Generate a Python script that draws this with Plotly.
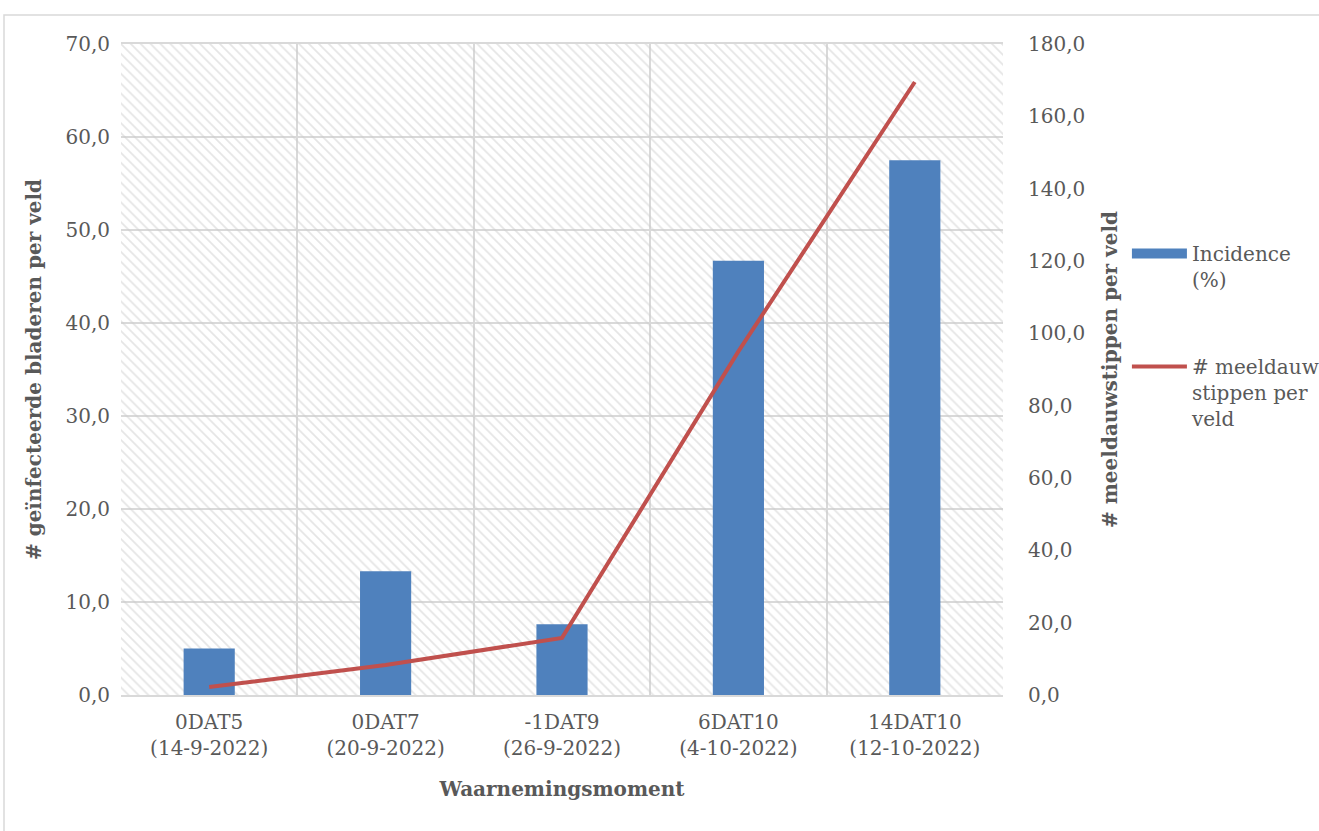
import plotly.graph_objects as go

categories = ["0DAT5<br>(14-9-2022)", "0DAT7<br>(20-9-2022)", "-1DAT9<br>(26-9-2022)",
              "6DAT10<br>(4-10-2022)", "14DAT10<br>(12-10-2022)"]
incidence = [5.0, 13.3, 7.6, 46.7, 57.5]
stippen = [2.2, 8.3, 15.8, 95.0, 169.5]
left_ticks = [0, 10, 20, 30, 40, 50, 60, 70]
right_ticks = [0, 20, 40, 60, 80, 100, 120, 140, 160, 180]

idx = list(range(len(categories)))
lo, hi = idx[0] - 0.5, idx[-1] + 0.5

FONT = "DejaVu Serif"
GREY = "#595959"
BLUE = "#4f81bd"
RED = "#c0504d"
FS = 20

fig = go.Figure()
# hatched plot background
fig.add_trace(go.Scatter(
    x=[lo, hi, hi, lo, lo], y=[0, 0, 1, 1, 0], mode="none", fill="toself",
    fillcolor="rgba(0,0,0,0)",
    fillpattern=dict(shape="\\", fgcolor="#cccccc", bgcolor="rgba(0,0,0,0)", size=7, solidity=0.25),
    xaxis="x", yaxis="y", showlegend=False, hoverinfo="skip"))

fig.add_trace(go.Bar(
    x=idx, y=incidence, name="Incidence<br>(%)", marker=dict(color=BLUE, line=dict(width=0)),
    width=0.29, xaxis="x", yaxis="y2", showlegend=False))
# legend swatch for bars (wide rectangle like the reference)
fig.add_trace(go.Scatter(
    x=[None], y=[None], name="Incidence<br>(%)", mode="lines",
    line=dict(color=BLUE, width=13), xaxis="x", yaxis="y2", legendgroup="a"))
fig.add_trace(go.Scatter(
    x=idx, y=stippen, name="# meeldauw<br>stippen per<br>veld", mode="lines",
    line=dict(color=RED, width=4), xaxis="x", yaxis="y3", legendgroup="b"))

fig.update_layout(
    width=1319, height=831,
    margin=dict(l=121, r=316, t=44, b=136, autoexpand=False),
    paper_bgcolor="white", plot_bgcolor="white",
    font=dict(family=FONT, size=FS, color=GREY),
    showlegend=True,
    legend=dict(x=1.1405, y=0.708, xanchor="left", yanchor="top", valign="top",
                font=dict(family=FONT, size=FS, color=GREY),
                tracegroupgap=58, itemwidth=55, bgcolor="rgba(0,0,0,0)"),
    xaxis=dict(range=[lo, hi], tickvals=idx, ticktext=categories, showgrid=False,
               showline=True, linecolor="#d9d9d9", linewidth=2, zeroline=False,
               ticks="", ticklabelstandoff=8, tickfont=dict(family=FONT, size=FS, color=GREY),
               minor=dict(tick0=lo, dtick=1, showgrid=True, gridcolor="#d9d9d9", gridwidth=2, ticks=""),
               title=dict(text="<b>Waarnemingsmoment</b>", standoff=23,
                          font=dict(family=FONT, size=FS, color=GREY)),
               mirror=True, automargin=False),
    yaxis=dict(range=[0, 1], visible=False, fixedrange=True),
    yaxis2=dict(overlaying="y", side="left", anchor="x", range=[0, 70], tickvals=left_ticks,
                tickformat=".1f", showgrid=True, gridcolor="#d9d9d9", gridwidth=2, zeroline=False,
                showline=False, ticks="", ticklabelstandoff=10, automargin=False,
                tickfont=dict(family=FONT, size=FS, color=GREY),
                title=dict(text="<b># geïnfecteerde bladeren per veld</b>", standoff=18,
                           font=dict(family=FONT, size=FS, color=GREY))),
    yaxis3=dict(overlaying="y", side="right", anchor="x", range=[0, 180], tickvals=right_ticks,
                tickformat=".1f", showgrid=False, zeroline=False, showline=False, ticks="",
                ticklabelstandoff=24, automargin=False,
                tickfont=dict(family=FONT, size=FS, color=GREY),
                title=dict(text="<b># meeldauwstippen per veld</b>", standoff=18,
                           font=dict(family=FONT, size=FS, color=GREY))),
    separators=",.",
    shapes=[dict(type="rect", xref="paper", yref="paper",
                 x0=-117/882, x1=1.4, y0=-140/651, y1=1 + 29/651,
                 line=dict(color="#d9d9d9", width=1.5), fillcolor="rgba(0,0,0,0)", layer="below")],
)

fig.write_html("out.html")
